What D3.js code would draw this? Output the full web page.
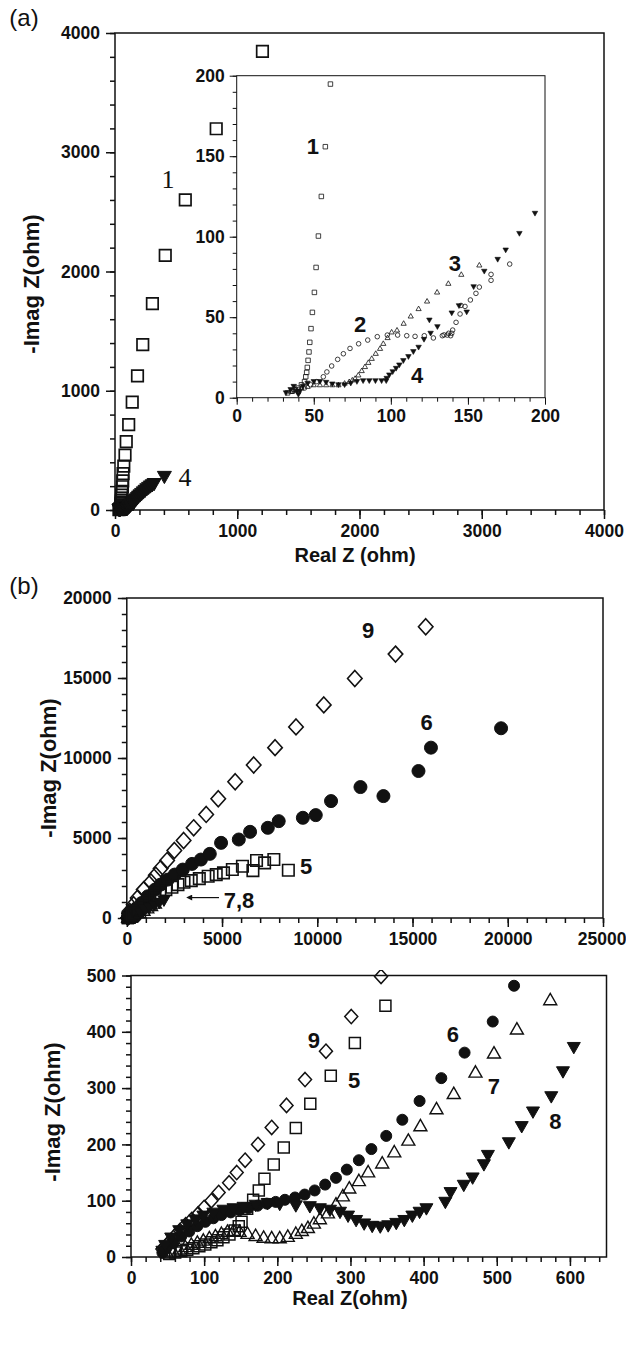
<!DOCTYPE html>
<html>
<head>
<meta charset="utf-8">
<script src="https://cdn.jsdelivr.net/npm/d3@7"></script>
<style>
body { margin: 0; background: #fff; }
text { font-family: "Liberation Sans", Arial, sans-serif; fill: #111; }
.tick text { font-size: 17.5px; font-weight: bold; }
.title { font-size: 20px; font-weight: bold; }
.ytitle { font-size: 22px; font-weight: bold; }
.lab { font-size: 22px; font-weight: bold; }
.serif { font-family: "Liberation Serif", "Times New Roman", serif; font-size: 26px; }
.panel { font-size: 24px; }
</style>
</head>
<body>
<svg id="fig" width="626" height="1346"></svg>
<script>
// ---- panel (a): Nyquist data, ohm (real, -imag) ----
const s1 = [[33,3],[36,4],[38,5],[40,6],[42,8],[44,10],[44.8,13],[45.4,15.7],[45.8,18.8],[46.3,23.2],[46.9,28.4],[47.4,34.4],[48.2,42.9],[49.1,53],[50.4,65.4],[51.5,80.9],[53,100.4],[54.9,125],[57.5,155.9],[60.8,194.8],[63,245],[66,305],[72,368],[82,461],[92,574],[112,716],[141,904],[184,1125],[227,1386],[306,1730],[411,2136],[575,2600],[828,3197],[1206,3846]];
const s2 = [[36,4],[40,5],[44,6],[48,8],[52,10],[56.2,13],[58.5,16],[61.6,19.7],[65.5,23.8],[69.2,27.3],[73.5,30.6],[79.1,33.5],[85,35.8],[91.2,37.9],[97.7,38.9],[104.4,38.9],[110.3,38.5],[115.7,38.1],[121.7,38.5],[127.6,37.1],[133.4,38.5],[134.5,39],[136.6,38.9],[137.5,40],[138.8,38.5],[139.5,40],[140.1,42],[142.3,46.8],[144.9,52],[145.5,57.3],[148.1,56.7],[151.6,60.7],[155.2,64.8],[157.4,68.7],[165,72.9],[165,76.6],[177.1,83]];
const s3 = [[35,4],[38,5],[42,6],[46,7],[50,8],[54,8],[58,8],[62,8],[66,8],[70,9],[73,10],[75,11],[76.8,12],[78.9,14.1],[81.1,16.8],[83.2,19.3],[85.4,21.9],[87.6,24.4],[90.2,27.5],[93,30.6],[95.1,33.7],[97.9,37.3],[100.5,40.8],[104,42],[108.3,46.2],[112.9,50.7],[118,55.3],[123.5,60],[130,65.6],[137.3,71],[145.7,76.6],[157.4,82.4]];
const s4 = [[32,3],[35,5],[37,7],[39,4],[40,2],[41,4],[43,7],[46,9],[50,10],[54,10],[58,9.5],[62,8.5],[66,8],[70,8],[74,9],[78,10],[82,10.5],[86,10.5],[90,10.5],[94,10.5],[97,10.5],[97.3,12],[99,14.1],[101.2,16.1],[103.4,18.2],[105.5,20.3],[108.1,23],[111.4,25.5],[114.6,28.6],[118,31.3],[121.5,36.2],[125,48.2],[125.8,40],[130.2,44.1],[139.5,52.6],[144.2,57.1],[149.2,53.2],[153.7,68.9],[160.6,78.5],[169.3,85.9],[174.5,91.7],[183.4,102],[193.5,114.5],[205,125],[218,137],[232,150],[246,163],[260,176],[275,188],[290,200],[305,210],[320,220],[404,280]];

// ---- panel (b), full range ----
const top5 = [[296,209],[571,418],[888,731],[1206,1044],[1480,1357],[1734,1566],[2051,1775],[2369,1921],[2686,2088],[3003,2234],[3384,2338],[3807,2463],[4272,2610],[4695,2714],[5076,2818],[5541,3027],[6071,3236],[6621,2964],[6811,3591],[7234,3445],[7720,3653],[8481,2985]];
const top6 = [[254,209],[465,522],[782,939],[1100,1357],[1480,1775],[1777,2088],[2157,2401],[2517,2714],[2940,3027],[3426,3382],[3891,3653],[4357,4008],[4949,4697],[5880,4906],[6472,5386],[7403,5637],[7974,6054],[9243,6263],[9920,6430],[10723,7307],[12267,8184],[13473,7620],[15313,9186],[15968,10647],[19649,11858]];
const top7 = [[700,300],[900,450],[1100,600],[1300,750],[1500,900]];
const top8 = [[700,350],[950,500],[1200,650],[1450,800],[1700,950],[1950,1100]];
const top9 = [[148,418],[360,835],[571,1253],[888,1775],[1269,2255],[1523,2672],[1777,3090],[2115,3591],[2496,4217],[2982,4843],[3511,5637],[4167,6472],[4801,7453],[5689,8518],[6662,9562],[7783,10647],[8883,11942],[10342,13319],[11971,14969],[14107,16493],[15693,18205]];

// ---- panel (b), low range ----
const low5 = [[52.2,5.2],[60.4,7.8],[68.7,10.4],[76.9,13],[85.2,15.6],[93.4,19.3],[101.6,22.4],[109.9,26],[118.1,29.7],[126.4,34.9],[134.6,40.1],[141.8,46.9],[147.3,54.7],[151.1,62.5],[158.8,85.9],[167,101.6],[174.7,118.2],[182.4,139.1],[195.1,164.1],[208.8,194.3],[225.3,229.2],[245.1,272.4],[273.1,321.9],[306,380.2],[347.8,446.4]];
const low6 = [[42.9,7.8],[48.4,15.6],[57.7,26],[68.7,36.5],[79.7,45.3],[90.7,54.7],[101.6,62.5],[112.6,68.8],[123.6,74.5],[136.3,79.2],[148.4,83.3],[160.4,87],[173.1,91.1],[185.7,94.8],[197.8,97.9],[210.4,101.6],[224.2,105.7],[237.4,110.9],[251.1,118.2],[265.4,128.6],[280.2,140.6],[295,155.2],[311.5,171.9],[328.6,191.7],[348.9,215.1],[370.9,243.8],[394.5,277.1],[424.2,317.7],[456,363],[494.5,418.2],[523.6,481.8]];
const low7 = [[49.5,6.8],[57.7,10.4],[65.9,14.1],[74.2,18.2],[82.4,22.4],[90.7,26],[98.9,29.7],[107.1,33.9],[115.4,37.5],[123.6,41.7],[131.9,45.3],[140.1,46.9],[148.4,45.3],[159.3,41.7],[170.3,38],[181.3,34.9],[192.3,33.9],[203.3,33.9],[214.3,36.5],[225.3,41.7],[233.5,46.9],[241.8,52.1],[250,59.9],[258.2,67.7],[269.2,78.1],[280.2,93.8],[289.6,108.3],[298.4,122.4],[311.5,135.4],[324.2,151],[343.4,166.7],[359.9,186.5],[379.1,207.3],[395.6,232.8],[417.6,263],[441.2,290.1],[470.9,328.1],[496.2,362],[527.5,404.7],[573.1,456.8]];
const low8 = [[42.9,10.4],[46.7,20.8],[54.9,33.9],[65.9,46.9],[76.9,57.3],[87.9,66.1],[98.9,72.9],[112.6,78.1],[126.4,83.3],[140.1,85.9],[153.8,88.5],[170.3,92.2],[186.8,95.3],[203.3,93.8],[225.3,91.1],[244.5,89.6],[258.2,85.9],[272,83.3],[285.7,79.7],[296.7,72.9],[307.7,65.1],[318.7,58.9],[329.7,54.7],[340.7,53.6],[351.6,55.7],[362.6,59.9],[373.6,65.1],[384.6,72.9],[394.5,79.7],[403.8,85.9],[429.7,97.4],[436.8,114.6],[454.9,127.6],[467,140.6],[482.4,164.1],[487.9,180.7],[516.5,203.1],[534.1,231.8],[549.5,257.8],[574.5,284.9],[590.5,329.2],[605.3,372.4]];
const low9 = [[42.9,14.1],[48.4,20.8],[53.8,28.6],[60.4,38],[67,46.9],[74.7,57.3],[83,66.7],[91.8,76.6],[100,88],[109.9,100],[119.8,114.6],[134.1,131.8],[144.5,150],[156,171.9],[173.6,200],[192.3,230.2],[212.6,269.3],[237.9,315.1],[266.5,365.6],[301.1,427],[341.8,498.4]];

const ticksA = [0, 1000, 2000, 3000, 4000];
const ticksInset = [0, 50, 100, 150, 200];
const ticksBx = [0, 5000, 10000, 15000, 20000, 25000];
const ticksBy = [0, 5000, 10000, 15000, 20000];
const ticksCx = [0, 100, 200, 300, 400, 500, 600];
const ticksCy = [0, 100, 200, 300, 400, 500];

const svg = d3.select("#fig");
const ink = "#111";

function shape(kind, s) {
    const h = s / 2;
    if (kind === "square") return `M${-h},${-h}H${h}V${h}H${-h}Z`;
    if (kind === "diamond") return `M0,${-h * 1.1}L${h},0L0,${h * 1.1}L${-h},0Z`;
    if (kind === "up") return `M0,${-h}L${h},${h * 0.75}L${-h},${h * 0.75}Z`;
    if (kind === "down") return `M0,${h}L${h},${-h * 0.75}L${-h},${-h * 0.75}Z`;
    return d3.symbol(d3.symbolCircle, Math.PI * h * h)();
}

function frame(g, x, y, o) {
    const [x0, x1] = x.range(), [y0, y1] = y.range();
    g.append("rect")
        .attr("x", x0).attr("y", y1)
        .attr("width", x1 - x0).attr("height", y0 - y1)
        .attr("fill", o.bg || "none")
        .attr("stroke", ink).attr("stroke-width", o.sw || 1.5);

    const minorX = g.append("g").attr("transform", `translate(0,${y0})`)
        .call(d3.axisBottom(x).tickValues(o.xMinor).tickSize(o.minor).tickSizeOuter(0).tickFormat(""));
    const majorX = g.append("g").attr("transform", `translate(0,${y0})`)
        .call(d3.axisBottom(x).tickValues(o.xTicks).tickSize(o.major).tickPadding(o.pad).tickFormat(d3.format("d")));
    const minorY = g.append("g").attr("transform", `translate(${x0},0)`)
        .call(d3.axisLeft(y).tickValues(o.yMinor).tickSize(o.minor).tickSizeOuter(0).tickFormat(""));
    const majorY = g.append("g").attr("transform", `translate(${x0},0)`)
        .call(d3.axisLeft(y).tickValues(o.yTicks).tickSize(o.major).tickPadding(o.pad).tickFormat(d3.format("d")));
    [minorX, majorX, minorY, majorY].forEach(a => {
        a.select(".domain").remove();
        a.selectAll("line").attr("stroke", ink).attr("stroke-width", o.sw || 1.5);
    });
    return majorX;
}

function scatter(g, x, y, data, kind, size, filled, sw) {
    g.append("g").selectAll("path")
        .data(data)
        .join("path")
        .attr("transform", d => `translate(${x(d[0])},${y(d[1])})`)
        .attr("d", shape(kind, size))
        .attr("fill", filled ? ink : "none")
        .attr("stroke", ink)
        .attr("stroke-width", sw || 1.5);
}

function label(g, x, y, px, py, txt, cls) {
    g.append("text")
        .attr("class", cls)
        .attr("x", x(px)).attr("y", y(py))
        .attr("dy", "0.35em")
        .attr("text-anchor", "middle")
        .text(txt);
}

// ================= panel (a) =================
const ax = d3.scaleLinear().domain([0, 4000]).range([115, 604]);
const ay = d3.scaleLinear().domain([0, 4000]).range([510, 33]);
const ga = svg.append("g");
frame(ga, ax, ay, {
    xTicks: ticksA, yTicks: ticksA,
    xMinor: d3.range(0, 4001, 200), yMinor: d3.range(0, 4001, 200),
    major: 9, minor: 5, pad: 6
});
scatter(ga, ax, ay, s1, "square", 11.5, false, 1.7);
scatter(ga, ax, ay, s4, "down", 14, true, 1);
label(ga, ax, ay, 434, 2774, "1", "serif");
label(ga, ax, ay, 572, 275, "4", "serif");

ga.append("text").attr("class", "title")
    .attr("x", 355).attr("y", 555).attr("dy", "0.35em").attr("text-anchor", "middle")
    .text("Real Z (ohm)");
ga.append("text").attr("class", "ytitle")
    .attr("transform", "translate(31,284) rotate(-90)").attr("dy", "0.35em").attr("text-anchor", "middle")
    .text("-Imag Z(ohm)");
svg.append("text").attr("class", "panel").attr("x", 24).attr("y", 18).attr("dy", "0.35em")
    .attr("text-anchor", "middle").text("(a)");

// inset
const ix = d3.scaleLinear().domain([0, 200]).range([236.7, 545]);
const iy = d3.scaleLinear().domain([0, 200]).range([397.7, 75.7]);
const gi = svg.append("g");
frame(gi, ix, iy, {
    xTicks: ticksInset, yTicks: ticksInset,
    xMinor: d3.range(0, 201, 10), yMinor: d3.range(0, 201, 10),
    major: 7, minor: 4, pad: 5, bg: "#fff", sw: 1
});
gi.append("clipPath").attr("id", "clipInset").append("rect")
    .attr("x", 236.7).attr("y", 72).attr("width", 312).attr("height", 330);
const gid = gi.append("g").attr("clip-path", "url(#clipInset)");
scatter(gid, ix, iy, s1.filter(d => d[1] <= 200), "square", 4.5, false, 0.8);
scatter(gid, ix, iy, s2, "circle", 4.6, false, 0.8);
scatter(gid, ix, iy, s3, "up", 5.2, false, 0.8);
scatter(gid, ix, iy, s4.filter(d => d[0] <= 200), "down", 5.5, true, 0.6);
label(gi, ix, iy, 49.4, 155.9, "1", "lab");
label(gi, ix, iy, 80, 45.5, "2", "lab");
label(gi, ix, iy, 141.6, 83.4, "3", "lab");
label(gi, ix, iy, 117, 14, "4", "lab");

// ================= panel (b) top =================
const bx = d3.scaleLinear().domain([0, 25000]).range([126.8, 603]);
const by = d3.scaleLinear().domain([0, 20000]).range([918, 598]);
const gb = svg.append("g");
const bAxis = frame(gb, bx, by, {
    xTicks: ticksBx, yTicks: ticksBy,
    xMinor: d3.range(0, 25001, 1000), yMinor: d3.range(0, 20001, 1000),
    major: 9, minor: 5, pad: 6
});
// last label sits against the page edge
bAxis.selectAll(".tick text").filter(d => d === 25000).attr("text-anchor", "end").attr("x", 23);
scatter(gb, bx, by, low9, "diamond", 13, false, 1.5);
scatter(gb, bx, by, low6, "circle", 12, true, 1);
scatter(gb, bx, by, low5, "square", 11, false, 1.5);
scatter(gb, bx, by, low7, "up", 12, false, 1.4);
scatter(gb, bx, by, low8, "down", 12, true, 1);
scatter(gb, bx, by, top9, "diamond", 14.5, false, 1.6);
scatter(gb, bx, by, top6, "circle", 13, true, 1);
scatter(gb, bx, by, top5, "square", 11.5, false, 1.6);
scatter(gb, bx, by, top7, "up", 12, false, 1.4);
scatter(gb, bx, by, top8, "down", 12, true, 1);
label(gb, bx, by, 12669, 18000, "9", "lab");
label(gb, bx, by, 15736, 12255, "6", "lab");
label(gb, bx, by, 9412, 3236, "5", "lab");
label(gb, bx, by, 5890, 1125, "7,8", "lab");
gb.append("defs").append("marker")
    .attr("id", "arrowhead").attr("viewBox", "0 0 10 10").attr("refX", 1).attr("refY", 5)
    .attr("markerWidth", 7).attr("markerHeight", 5).attr("orient", "auto-start-reverse")
    .append("path").attr("d", "M0,0L10,5L0,10Z").attr("fill", ink);
gb.append("line")
    .attr("x1", bx(4840)).attr("y1", by(1275))
    .attr("x2", bx(3400)).attr("y2", by(1275))
    .attr("stroke", ink).attr("stroke-width", 1.2)
    .attr("marker-end", "url(#arrowhead)");
gb.append("text").attr("class", "ytitle")
    .attr("transform", "translate(48,768) rotate(-90)").attr("dy", "0.35em").attr("text-anchor", "middle")
    .text("-Imag Z(ohm)");
svg.append("text").attr("class", "panel").attr("x", 24).attr("y", 586).attr("dy", "0.35em")
    .attr("text-anchor", "middle").text("(b)");

// ================= panel (b) bottom =================
const cx = d3.scaleLinear().domain([0, 650]).range([131, 606.5]);
const cy = d3.scaleLinear().domain([0, 500]).range([1257, 975.5]);
const gc = svg.append("g");
frame(gc, cx, cy, {
    xTicks: ticksCx, yTicks: ticksCy,
    xMinor: d3.range(0, 641, 20), yMinor: d3.range(0, 501, 20),
    major: 9, minor: 5, pad: 6
});
gc.append("clipPath").attr("id", "clipLow").append("rect")
    .attr("x", 120).attr("y", 970).attr("width", 495).attr("height", 295);
const gcd = gc.append("g").attr("clip-path", "url(#clipLow)");
scatter(gcd, cx, cy, low9, "diamond", 13, false, 1.5);
scatter(gcd, cx, cy, low5, "square", 11, false, 1.5);
scatter(gcd, cx, cy, low7, "up", 13, false, 1.4);
scatter(gcd, cx, cy, low6, "circle", 11, true, 1);
scatter(gcd, cx, cy, low8, "down", 13, true, 1);
label(gc, cx, cy, 250, 385, "9", "lab");
label(gc, cx, cy, 305, 314, "5", "lab");
label(gc, cx, cy, 440, 396, "6", "lab");
label(gc, cx, cy, 496, 303, "7", "lab");
label(gc, cx, cy, 580, 241, "8", "lab");
gc.append("text").attr("class", "title")
    .attr("x", 350).attr("y", 1298).attr("dy", "0.35em").attr("text-anchor", "middle")
    .text("Real Z(ohm)");
gc.append("text").attr("class", "ytitle")
    .attr("transform", "translate(52,1112) rotate(-90)").attr("dy", "0.35em").attr("text-anchor", "middle")
    .text("-Imag Z(ohm)");
</script>
</body>
</html>
